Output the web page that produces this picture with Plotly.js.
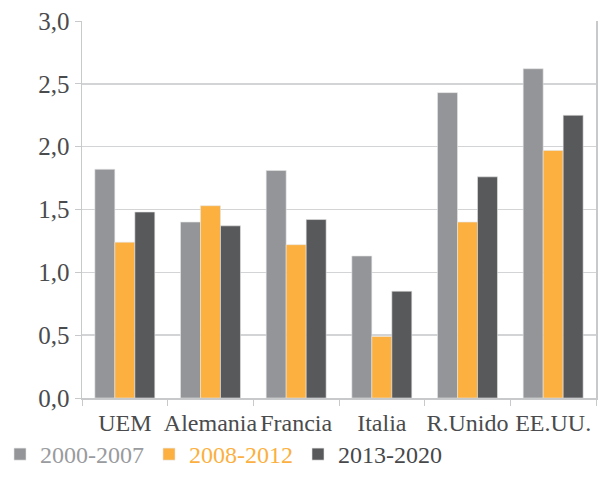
<!DOCTYPE html>
<html><head><meta charset="utf-8">
<script src="https://cdn.plot.ly/plotly-3.0.1.min.js"></script>
<style>html,body{margin:0;padding:0;background:#fff}#c{width:604px;height:477px}</style>
</head><body><div id="c"></div>
<script>
const categories = ["UEM", "Alemania", "Francia", "Italia", "R.Unido", "EE.UU."];
const series2000_2007 = [1.82, 1.40, 1.81, 1.13, 2.43, 2.62];
const series2008_2012 = [1.24, 1.53, 1.22, 0.49, 1.40, 1.97];
const series2013_2020 = [1.48, 1.37, 1.42, 0.85, 1.76, 2.25];
const seriesNames = ["2000-2007", "2008-2012", "2013-2020"];
const colors = ["#939598", "#FBB040", "#58595B"];
const textColors = ["#9a9b9e", "#FBB040", "#47484a"];
const tickVals = [0, 0.5, 1, 1.5, 2, 2.5, 3];
const tickText = ["0,0", "0,5", "1,0", "1,5", "2,0", "2,5", "3,0"];

const all = [series2000_2007, series2008_2012, series2013_2020];
const traces = all.map((vals, i) => ({
  type: "bar", x: categories, y: vals,
  name: '<span style="color:' + textColors[i] + '">' + seriesNames[i] + '</span>',
  marker: {color: colors[i], line: {color: "#e6e6e6", width: 0.6}},
  hoverinfo: "x+y"
}));

const font = "Liberation Serif, DejaVu Serif, serif";
Plotly.newPlot("c", traces, {
  width: 604, height: 477,
  margin: {l: 82, r: 8, t: 21, b: 79},
  barmode: "group", bargap: 0.3, bargroupgap: 0,
  paper_bgcolor: "#fff", plot_bgcolor: "#fff",
  font: {family: font, color: "#505153", size: 22},
  xaxis: {
    type: "category", tickson: "boundaries", ticks: "outside", ticklen: 6,
    tickcolor: "#c8c9cb", showline: true, linecolor: "#c8c9cb", linewidth: 1.5,
    showgrid: false, tickfont: {size: 24, color: "#4a4b4d"}, tickangle: 0,
    automargin: false, ticklabelstandoff: 3
  },
  yaxis: {
    range: [0, 3], tickvals: tickVals, ticktext: tickText, ticks: "outside",
    ticklen: 6, tickcolor: "#c8c9cb", showline: true, mirror: true,
    linecolor: "#c8c9cb", linewidth: 1.5, gridcolor: "#d3d4d6", gridwidth: 1.5,
    zeroline: false, tickfont: {size: 25, color: "#4a4b4d"}, automargin: false
  },
  showlegend: true,
  legend: {orientation: "h", xref: "container", yref: "container",
    x: 0.0, xanchor: "left", y: 0.0, yanchor: "bottom",
    font: {size: 24}, tracegroupgap: 0, traceorder: "normal"}
}, {displayModeBar: false, staticPlot: true});
</script></body></html>
